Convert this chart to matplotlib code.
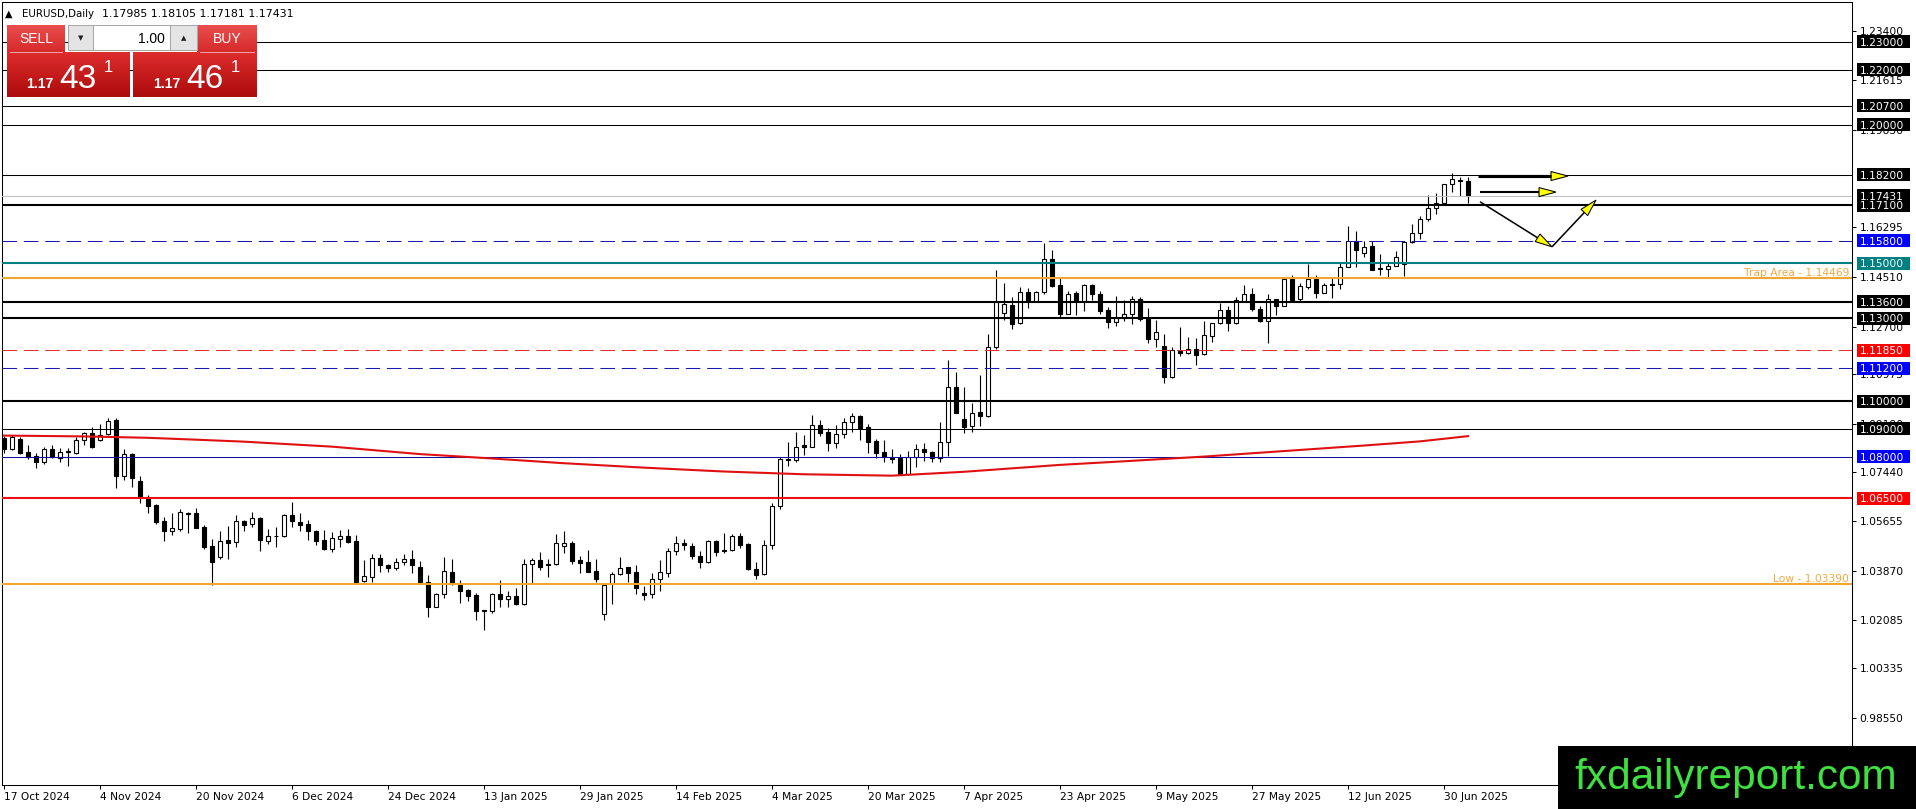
import numpy as np
import matplotlib
matplotlib.use("Agg")
import matplotlib.pyplot as plt
from matplotlib.patches import Rectangle, Polygon
from matplotlib.transforms import blended_transform_factory

# EURUSD daily candles, 17 Oct 2024 .. 3 Jul 2025
opens = [1.0866, 1.0828, 1.0864, 1.0816, 1.0802, 1.0782, 1.0827, 1.0794, 1.0818, 1.0814,
         1.0860, 1.0884, 1.0860, 1.0881, 1.0933, 1.0728, 1.0810, 1.0712, 1.0653, 1.0625,
         1.0567, 1.0532, 1.0537, 1.0597, 1.0595, 1.0544, 1.0477, 1.0436, 1.0498, 1.0490,
         1.0567, 1.0555, 1.0577, 1.0496, 1.0512, 1.0511, 1.0589, 1.0562, 1.0556, 1.0531,
         1.0498, 1.0467, 1.0501, 1.0513, 1.0495, 1.0351, 1.0366, 1.0432, 1.0408, 1.0396,
         1.0420, 1.0429, 1.0402, 1.0348, 1.0257, 1.0302, 1.0384, 1.0336, 1.0316, 1.0298,
         1.0245, 1.0242, 1.0302, 1.0285, 1.0294, 1.0266, 1.0413, 1.0427, 1.0406, 1.0411,
         1.0477, 1.0489, 1.0427, 1.0417, 1.0387, 1.0230, 1.0342, 1.0376, 1.0399, 1.0381,
         1.0308, 1.0302, 1.0358, 1.0378, 1.0459, 1.0489, 1.0478, 1.0442, 1.0418, 1.0495,
         1.0463, 1.0463, 1.0511, 1.0483, 1.0394, 1.0376, 1.0481, 1.0623, 1.0792, 1.0786,
         1.0842, 1.0836, 1.0914, 1.0888, 1.0850, 1.0881, 1.0924, 1.0947, 1.0908, 1.0856,
         1.0818, 1.0800, 1.0794, 1.0737, 1.0797, 1.0826, 1.0818, 1.0794, 1.0851, 1.1051,
         1.0935, 1.0912, 1.0960, 1.0948, 1.1198, 1.1318, 1.1349, 1.1282, 1.1397, 1.1363,
         1.1397, 1.1514, 1.1421, 1.1316, 1.1391, 1.1364, 1.1421, 1.1388, 1.1330, 1.1288,
         1.1300, 1.1315, 1.1369, 1.1300, 1.1224, 1.1200, 1.1087, 1.1183, 1.1174, 1.1188,
         1.1170, 1.1238, 1.1282, 1.1330, 1.1282, 1.1364, 1.1388, 1.1334, 1.1292, 1.1369,
         1.1346, 1.1441, 1.1369, 1.1415, 1.1441, 1.1393, 1.1423, 1.1424, 1.1487, 1.1581,
         1.1538, 1.1562, 1.1482, 1.1478, 1.1491, 1.1496, 1.1578, 1.1608, 1.1658, 1.1698,
         1.1719, 1.1786, 1.1801, 1.17985]
highs = [1.0875, 1.0878, 1.0870, 1.0842, 1.0812, 1.0833, 1.0842, 1.0830, 1.0830, 1.0870,
         1.0890, 1.0906, 1.0917, 1.0939, 1.0939, 1.0826, 1.0812, 1.0728, 1.0661, 1.0629,
         1.0583, 1.0595, 1.0611, 1.0601, 1.0613, 1.0553, 1.0501, 1.0532, 1.0549, 1.0589,
         1.0571, 1.0599, 1.0580, 1.0537, 1.0547, 1.0593, 1.0634, 1.0595, 1.0571, 1.0535,
         1.0535, 1.0526, 1.0535, 1.0538, 1.0517, 1.0426, 1.0448, 1.0448, 1.0412, 1.0432,
         1.0448, 1.0462, 1.0421, 1.0372, 1.0306, 1.0435, 1.0430, 1.0354, 1.0322, 1.0306,
         1.0246, 1.0306, 1.0352, 1.0312, 1.0326, 1.0430, 1.0433, 1.0453, 1.0430, 1.0519,
         1.0529, 1.0493, 1.0442, 1.0463, 1.0430, 1.0342, 1.0384, 1.0437, 1.0402, 1.0409,
         1.0330, 1.0378, 1.0427, 1.0469, 1.0511, 1.0503, 1.0487, 1.0459, 1.0499, 1.0498,
         1.0523, 1.0519, 1.0523, 1.0487, 1.0417, 1.0498, 1.0632, 1.0800, 1.0854, 1.0890,
         1.0878, 1.0950, 1.0932, 1.0902, 1.0914, 1.0938, 1.0959, 1.0950, 1.0918, 1.0862,
         1.0860, 1.0828, 1.0809, 1.0821, 1.0846, 1.0850, 1.0822, 1.0924, 1.1150, 1.1107,
         1.1053, 1.0993, 1.1095, 1.1244, 1.1475, 1.1427, 1.1379, 1.1415, 1.1409, 1.1399,
         1.1574, 1.1547, 1.1445, 1.1400, 1.1400, 1.1424, 1.1424, 1.1400, 1.1340, 1.1381,
         1.1367, 1.1381, 1.1376, 1.1336, 1.1294, 1.1244, 1.1198, 1.1270, 1.1231, 1.1228,
         1.1291, 1.1285, 1.1357, 1.1345, 1.1376, 1.1421, 1.1411, 1.1345, 1.1388, 1.1369,
         1.1441, 1.1457, 1.1427, 1.1497, 1.1457, 1.1429, 1.1445, 1.1505, 1.1634, 1.1617,
         1.1581, 1.1581, 1.1532, 1.1499, 1.1545, 1.1581, 1.1642, 1.1670, 1.1746, 1.1752,
         1.1786, 1.1827, 1.1813, 1.18105]
lows = [1.0812, 1.0824, 1.0810, 1.0792, 1.0760, 1.0773, 1.0794, 1.0782, 1.0767, 1.0808,
        1.0842, 1.0830, 1.0858, 1.0878, 1.0685, 1.0716, 1.0689, 1.0631, 1.0597, 1.0556,
        1.0496, 1.0517, 1.0529, 1.0525, 1.0541, 1.0465, 1.0336, 1.0429, 1.0429, 1.0474,
        1.0529, 1.0547, 1.0460, 1.0484, 1.0474, 1.0508, 1.0544, 1.0532, 1.0498, 1.0480,
        1.0462, 1.0453, 1.0474, 1.0486, 1.0345, 1.0348, 1.0348, 1.0384, 1.0384, 1.0390,
        1.0408, 1.0378, 1.0342, 1.0218, 1.0254, 1.0290, 1.0336, 1.0270, 1.0279, 1.0210,
        1.0173, 1.0234, 1.0254, 1.0254, 1.0264, 1.0264, 1.0342, 1.0390, 1.0366, 1.0408,
        1.0451, 1.0411, 1.0378, 1.0382, 1.0346, 1.0210, 1.0266, 1.0372, 1.0348, 1.0302,
        1.0282, 1.0288, 1.0312, 1.0366, 1.0445, 1.0463, 1.0429, 1.0396, 1.0415, 1.0442,
        1.0451, 1.0460, 1.0471, 1.0390, 1.0358, 1.0372, 1.0465, 1.0610, 1.0766, 1.0782,
        1.0806, 1.0834, 1.0876, 1.0820, 1.0832, 1.0866, 1.0890, 1.0860, 1.0814, 1.0794,
        1.0782, 1.0776, 1.0733, 1.0733, 1.0764, 1.0784, 1.0782, 1.0782, 1.0802, 1.0957,
        1.0884, 1.0890, 1.0912, 1.0944, 1.1190, 1.1294, 1.1262, 1.1280, 1.1337, 1.1361,
        1.1390, 1.1415, 1.1306, 1.1315, 1.1312, 1.1328, 1.1367, 1.1316, 1.1266, 1.1272,
        1.1292, 1.1280, 1.1292, 1.1212, 1.1198, 1.1065, 1.1083, 1.1164, 1.1171, 1.1131,
        1.1168, 1.1216, 1.1280, 1.1256, 1.1280, 1.1361, 1.1328, 1.1288, 1.1210, 1.1312,
        1.1345, 1.1364, 1.1364, 1.1405, 1.1373, 1.1391, 1.1373, 1.1405, 1.1485, 1.1487,
        1.1523, 1.1475, 1.1457, 1.1451, 1.1489, 1.1453, 1.1574, 1.1588, 1.1654, 1.1678,
        1.1716, 1.1759, 1.1743, 1.17181]
closes = [1.0827, 1.0872, 1.0814, 1.0800, 1.0782, 1.0827, 1.0798, 1.0816, 1.0819, 1.0860,
          1.0884, 1.0833, 1.0878, 1.0930, 1.0728, 1.0810, 1.0722, 1.0655, 1.0621, 1.0565,
          1.0532, 1.0541, 1.0599, 1.0593, 1.0543, 1.0474, 1.0420, 1.0496, 1.0489, 1.0567,
          1.0553, 1.0577, 1.0498, 1.0513, 1.0513, 1.0589, 1.0568, 1.0553, 1.0529, 1.0496,
          1.0466, 1.0505, 1.0513, 1.0492, 1.0348, 1.0368, 1.0432, 1.0406, 1.0396, 1.0420,
          1.0429, 1.0406, 1.0348, 1.0254, 1.0304, 1.0387, 1.0341, 1.0314, 1.0295, 1.0242,
          1.0240, 1.0304, 1.0285, 1.0294, 1.0266, 1.0411, 1.0427, 1.0402, 1.0413, 1.0487,
          1.0489, 1.0424, 1.0415, 1.0384, 1.0357, 1.0336, 1.0375, 1.0396, 1.0378, 1.0324,
          1.0300, 1.0358, 1.0382, 1.0460, 1.0487, 1.0481, 1.0442, 1.0418, 1.0495, 1.0454,
          1.0459, 1.0511, 1.0481, 1.0393, 1.0372, 1.0481, 1.0623, 1.0790, 1.0786, 1.0834,
          1.0836, 1.0914, 1.0887, 1.0850, 1.0882, 1.0924, 1.0947, 1.0902, 1.0854, 1.0814,
          1.0800, 1.0791, 1.0737, 1.0797, 1.0826, 1.0817, 1.0794, 1.0852, 1.1051, 1.0959,
          1.0908, 1.0957, 1.0948, 1.1198, 1.1361, 1.1351, 1.1280, 1.1397, 1.1363, 1.1394,
          1.1514, 1.1417, 1.1316, 1.1388, 1.1363, 1.1421, 1.1387, 1.1328, 1.1288, 1.1300,
          1.1315, 1.1369, 1.1297, 1.1224, 1.1250, 1.1087, 1.1186, 1.1174, 1.1188, 1.1168,
          1.1240, 1.1282, 1.1330, 1.1282, 1.1367, 1.1388, 1.1333, 1.1292, 1.1369, 1.1346,
          1.1441, 1.1367, 1.1417, 1.1441, 1.1393, 1.1421, 1.1420, 1.1487, 1.1581, 1.1547,
          1.1560, 1.1475, 1.1478, 1.1491, 1.1521, 1.1578, 1.1608, 1.1658, 1.1698, 1.1716,
          1.1786, 1.1803, 1.1796, 1.17431]

# red moving average, read at a few bars
ma_bars = [0, 10, 18, 25, 30, 41, 52, 60, 70, 80, 90, 100, 111, 120, 132, 140, 150, 160, 170, 177, 183]
ma_vals = [1.0876, 1.0873, 1.0868, 1.0860, 1.0854, 1.0836, 1.0809, 1.0795, 1.0776, 1.0760, 1.0746,
           1.0736, 1.0731, 1.0745, 1.0770, 1.0783, 1.0800, 1.0820, 1.0840, 1.0855, 1.0874]

# horizontal levels with their right-side price boxes
levels = [1.2300, 1.2200, 1.2070, 1.2000, 1.1820, 1.1710, 1.1580, 1.1500, 1.1360, 1.1300,
          1.1185, 1.1120, 1.1000, 1.0900, 1.0800, 1.0650]
level_colors = ['black', 'black', 'black', 'black', 'black', 'black', '#1a1ab0', '#008080', 'black', 'black',
                '#e03030', '#1a1ab0', 'black', 'black', '#1010a0', '#e81010']
level_px = [1, 1, 1, 1, 1, 2, 1, 2, 2, 2, 1, 1, 2, 1, 1, 2]
level_dashed = [False, False, False, False, False, False, True, False, False, False,
                True, True, False, False, False, False]
box_colors = ['black', 'black', 'black', 'black', 'black', 'black', '#0000ff', '#008080', 'black', 'black',
              '#ff0000', '#0000ff', 'black', 'black', '#0000ff', '#ff0000']

current_price = 1.17431
trap_price = 1.14469
low_price = 1.03390

yticks = [1.23400, 1.21615, 1.19830, 1.16295, 1.14510, 1.12700, 1.10975, 1.09190,
          1.07440, 1.05655, 1.03870, 1.02085, 1.00335, 0.98550]
date_pos = [0, 12, 24, 36, 48, 60, 72, 84, 96, 108, 120, 132, 144, 156, 168, 180]
date_labels = ['17 Oct 2024', '4 Nov 2024', '20 Nov 2024', '6 Dec 2024', '24 Dec 2024', '13 Jan 2025',
               '29 Jan 2025', '14 Feb 2025', '4 Mar 2025', '20 Mar 2025', '7 Apr 2025', '23 Apr 2025',
               '9 May 2025', '27 May 2025', '12 Jun 2025', '30 Jun 2025']

# projected path arrows (bar, price)
arrow_paths = [
    ([184.25, 195.5], [1.1815, 1.1815], 3),
    ([184.5, 194.0], [1.1757, 1.1757], 2),
    ([184.5, 193.5], [1.1722, 1.1559], 1.5),
    ([193.5, 199.0], [1.1559, 1.1728], 1.5),
]

W, H = 1916, 809
FS = 7.7
fig = plt.figure(figsize=(W / 100, H / 100), dpi=100)
fig.patch.set_facecolor('white')
ax = fig.add_axes([2 / W, 24 / H, 1850 / W, 783 / H])
ax.set_xlim(-0.25, 231)
ax.set_ylim(0.96118, 1.24447)

o = np.array(opens); h = np.array(highs); l = np.array(lows); c = np.array(closes)
x = np.arange(len(o))
ax.vlines(x, l, h, colors='black', linewidth=0.8, zorder=2)
body_lo = np.minimum(o, c)
body_h = np.maximum(np.abs(c - o), 0.00004)
fills = ['white' if cc >= oo else 'black' for oo, cc in zip(o, c)]
ax.bar(x, body_h, bottom=body_lo, width=0.6, color=fills, edgecolor='black', linewidth=0.8, zorder=3)

for p, col, w, d in zip(levels, level_colors, level_px, level_dashed):
    ls = (0, (14, 6.5)) if d else '-'
    ax.axhline(p, color=col, lw=w * 0.75, ls=ls, zorder=4)
ax.axhline(current_price, color='#c0c0c0', lw=0.75, zorder=4)
ax.axhline(trap_price, color='#f2a630', lw=1.5, zorder=4)
ax.axhline(low_price, color='#f2a630', lw=1.5, zorder=4)

ax.plot(ma_bars, ma_vals, color='#e01010', lw=1.5, zorder=5)

tr = blended_transform_factory(ax.transAxes, ax.transData)
ax.text(1 - 3 / 1850, trap_price, 'Trap Area - 1.14469', transform=tr, ha='right', va='bottom',
        color='#f0a840', fontsize=FS, zorder=6)
ax.text(1 - 3 / 1850, low_price, 'Low - 1.03390', transform=tr, ha='right', va='bottom',
        color='#f0a840', fontsize=FS, zorder=6)

ax.yaxis.tick_right()
ax.set_yticks(yticks)
ax.set_yticklabels(['%.5f' % t for t in yticks])
ax.tick_params(axis='y', direction='out', length=3, width=0.75, pad=2.5, labelsize=FS)
ax.set_xticks(date_pos)
ax.set_xticklabels(date_labels, ha='left')
ax.tick_params(axis='x', direction='out', length=3, width=0.75, pad=2, labelsize=FS)
for s in ax.spines.values():
    s.set_linewidth(0.75)
    s.set_color('black')

# overlay in pixel coordinates for the terminal furniture
ov = fig.add_axes([0, 0, 1, 1], zorder=10)
ov.patch.set_alpha(0)
ov.axis('off')


def px_y(price):
    return H - ax.transData.transform((0, price))[1]


def px_x(bar):
    return ax.transData.transform((bar, 0))[0]


def price_box(price, col):
    py = px_y(price)
    ov.add_patch(Rectangle((1857, py - 6.5), 53, 13, fc=col, ec='none'))
    ov.text(1860, py + 4, '%.5f' % price, color='white', fontsize=FS, ha='left', va='baseline')


price_box(current_price, 'black')
for p, bc in zip(levels, box_colors):
    price_box(p, bc)

# arrows
for bx, by, w in arrow_paths:
    p0 = np.array([px_x(bx[0]), px_y(by[0])])
    p1 = np.array([px_x(bx[1]), px_y(by[1])])
    d = (p1 - p0) / np.hypot(*(p1 - p0))
    n = np.array([-d[1], d[0]])
    base = p1 - d * 17
    ov.plot([p0[0], base[0]], [p0[1], base[1]], color='black', lw=w * 0.75, solid_capstyle='butt')
    ov.add_patch(Polygon([p1, base + n * 4.5, base - n * 4.5], closed=True, fc='#ffff00', ec='black', lw=0.75))


def grad(x0, x1, y0, y1, top, bot):
    t = np.linspace(0, 1, 40)[:, None, None]
    img = np.array(top)[None, None, :] * (1 - t) + np.array(bot)[None, None, :] * t
    ov.imshow(img / 255.0, extent=(x0, x1, y1, y0), aspect='auto', interpolation='bilinear')


# trade panel
grad(7, 65, 25, 52, (234, 78, 78), (214, 42, 42))
grad(197, 257, 25, 52, (234, 78, 78), (214, 42, 42))
grad(7, 130, 52, 97, (222, 44, 44), (172, 12, 12))
grad(133, 257, 52, 97, (222, 44, 44), (172, 12, 12))
ov.plot([10, 62], [51.5, 51.5], color='#f0a0a0', lw=0.75)
ov.plot([200, 254], [51.5, 51.5], color='#f0a0a0', lw=0.75)
ov.add_patch(Rectangle((68, 25), 25, 25, fc='#e4e4e4', ec='#a8a8a8', lw=0.75))
ov.add_patch(Rectangle((93, 25), 77, 25, fc='white', ec='#a8a8a8', lw=0.75))
ov.add_patch(Rectangle((170, 25), 27, 25, fc='#e4e4e4', ec='#a8a8a8', lw=0.75))
ov.text(80.5, 38, '\u25bc', fontsize=5, ha='center', va='center', color='#202020')
ov.text(183.5, 38, '\u25b2', fontsize=5, ha='center', va='center', color='#202020')
ov.text(165, 42.5, '1.00', fontsize=10, ha='right', va='baseline', color='black', family='Liberation Sans')
ov.text(36, 43, 'SELL', fontsize=10, ha='center', va='baseline', color='white', family='Liberation Sans')
ov.text(227, 43, 'BUY', fontsize=10, ha='center', va='baseline', color='white', family='Liberation Sans')
for x0, big in [(26, '43'), (153, '46')]:
    ov.text(x0, 88, '1.17', fontsize=10, weight='bold', ha='left', va='baseline', color='white',
            family='Liberation Sans')
    ov.text(x0 + 33, 87.5, big, fontsize=24, ha='left', va='baseline', color='white', family='Liberation Sans')
    ov.text(x0 + 78, 72, '1', fontsize=12, ha='left', va='baseline', color='white', family='Liberation Sans')

# header
ov.text(5, 13.5, '\u25b2', fontsize=7, ha='left', va='center', color='black')
ov.text(22, 13.5, 'EURUSD,Daily', fontsize=7.4, ha='left', va='center', color='black')
ov.text(102, 13.5, '1.17985 1.18105 1.17181 1.17431', fontsize=7.9, ha='left', va='center', color='black')

# watermark
ov.add_patch(Rectangle((1558, 746), 358, 63, fc='black', ec='none'))
ov.text(1736, 789, 'fxdailyreport.com', fontsize=30.5, ha='center', va='baseline', color='#3fe03f',
        family='Liberation Sans')

ov.set_xlim(0, W)
ov.set_ylim(H, 0)

fig.savefig('out.png', dpi=100)
